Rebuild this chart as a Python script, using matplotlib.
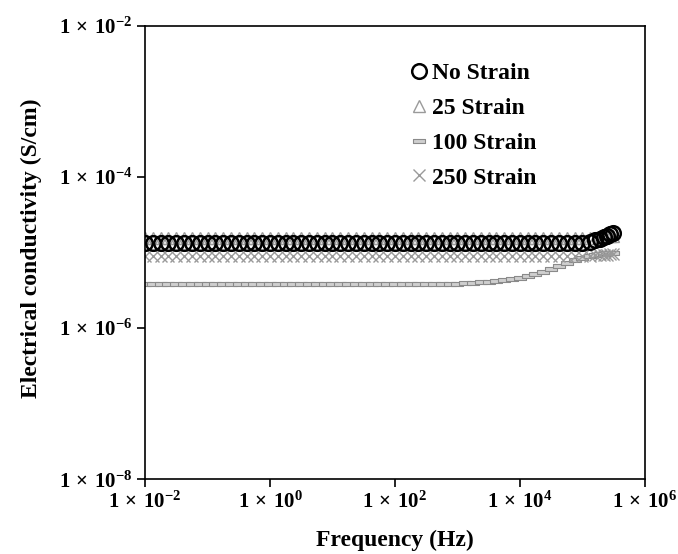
"""Electrical conductivity vs frequency for the strained samples (log-log)."""
import math

import matplotlib
matplotlib.use("Agg")
import matplotlib.pyplot as plt
from matplotlib.ticker import FixedLocator, FuncFormatter

plt.rcParams["font.family"] = "Liberation Serif"
plt.rcParams["font.weight"] = "bold"
plt.rcParams["mathtext.fontset"] = "custom"
plt.rcParams["mathtext.rm"] = "Liberation Serif:bold"
plt.rcParams["mathtext.it"] = "Liberation Serif:bold"
plt.rcParams["mathtext.bf"] = "Liberation Serif:bold"

# frequency sweep (Hz), ~8 points per decade, denser at the top end
freq = [0.01, 0.0133, 0.0178, 0.0237, 0.0316, 0.0422, 0.0562, 0.075,
        0.1, 0.133, 0.178, 0.237, 0.316, 0.422, 0.562, 0.75,
        1.0, 1.33, 1.78, 2.37, 3.16, 4.22, 5.62, 7.5,
        10, 13.3, 17.8, 23.7, 31.6, 42.2, 56.2, 75,
        100, 133, 178, 237, 316, 422, 562, 750,
        1000, 1330, 1780, 2370, 3160, 4220, 5620, 7500,
        10000, 13300, 17800, 23700, 31600, 42200, 56200, 75000,
        100000, 133000, 160000, 190000, 220000, 250000, 280000, 310000]

# conductivity (S/cm)
no_strain = [1.34e-5] * 56 + [1.36e-5, 1.40e-5, 1.45e-5, 1.52e-5, 1.60e-5, 1.68e-5, 1.76e-5, 1.84e-5]
strain_25 = [1.55e-5] * 56 + [1.55e-5, 1.56e-5, 1.58e-5, 1.60e-5, 1.62e-5, 1.64e-5, 1.66e-5, 1.68e-5]
strain_100 = [3.9e-6] * 41 + [3.95e-6, 4.0e-6, 4.05e-6, 4.12e-6, 4.2e-6, 4.3e-6,
                              4.42e-6, 4.6e-6, 4.85e-6, 5.2e-6, 5.6e-6, 6.1e-6, 6.7e-6, 7.3e-6,
                              8.0e-6, 8.6e-6, 9.0e-6, 9.3e-6, 9.5e-6, 9.7e-6, 9.8e-6, 9.9e-6, 1.0e-5]
strain_250 = [9.0e-6] * 56 + [9.0e-6, 9.1e-6, 9.2e-6, 9.3e-6, 9.4e-6, 9.4e-6, 9.5e-6, 9.5e-6]

labels = ["No Strain", "25 Strain", "100 Strain", "250 Strain"]
x_ticks = [1e-2, 1e0, 1e2, 1e4, 1e6]
y_ticks = [1e-8, 1e-6, 1e-4, 1e-2]

dash = [(-1, -0.28), (1, -0.28), (1, 0.28), (-1, 0.28), (-1, -0.28)]

fig = plt.figure(figsize=(6.78, 5.54), dpi=100)
ax = fig.add_axes([0.214, 0.135, 0.737, 0.818])

ax.plot(freq, strain_25, ls="none", marker="^", ms=8, mfc="none", mec="#9a9a9a", mew=1.0,
        label=labels[1], zorder=2)
ax.plot(freq, no_strain, ls="none", marker="o", ms=10.5, mfc="none", mec="black", mew=1.8,
        label=labels[0], zorder=3)
ax.plot(freq, strain_100, ls="none", marker=dash, ms=9, mfc="#cfcfcf", mec="#8a8a8a", mew=0.8,
        label=labels[2], zorder=2)
ax.plot(freq, strain_250, ls="none", marker="x", ms=8, mec="#9a9a9a", mew=1.0,
        label=labels[3], zorder=2)

ax.set_xscale("log")
ax.set_yscale("log")
ax.set_xlim(1e-2, 1e6)
ax.set_ylim(1e-8, 1e-2)
ax.xaxis.set_major_locator(FixedLocator(x_ticks))
ax.yaxis.set_major_locator(FixedLocator(y_ticks))
ax.xaxis.set_minor_locator(FixedLocator([]))
ax.yaxis.set_minor_locator(FixedLocator([]))
fmt = FuncFormatter(lambda v, _: r"$1\,\times\,10^{%d}$" % round(math.log10(v)))
ax.xaxis.set_major_formatter(fmt)
ax.yaxis.set_major_formatter(fmt)
ax.tick_params(direction="out", length=6, width=1.2, labelsize=15, pad=3)
for s in ax.spines.values():
    s.set_linewidth(1.2)

fig.text(0.583, 0.025, "Frequency (Hz)", fontsize=17, fontweight="bold",
         ha="center", va="center")
fig.text(0.046, 0.552, "Electrical conductivity (S/cm)", fontsize=17, fontweight="bold",
         ha="center", va="center", rotation=90)

h, l = ax.get_legend_handles_labels()
order = [l.index(n) for n in labels]
ax.legend([h[i] for i in order], labels, loc="upper left", bbox_to_anchor=(0.506, 0.945),
          frameon=False, borderpad=0, handlelength=0.8, handletextpad=0.15,
          labelspacing=0.56, prop={"weight": "bold", "size": 17})

fig.savefig("out.png", dpi=100)
